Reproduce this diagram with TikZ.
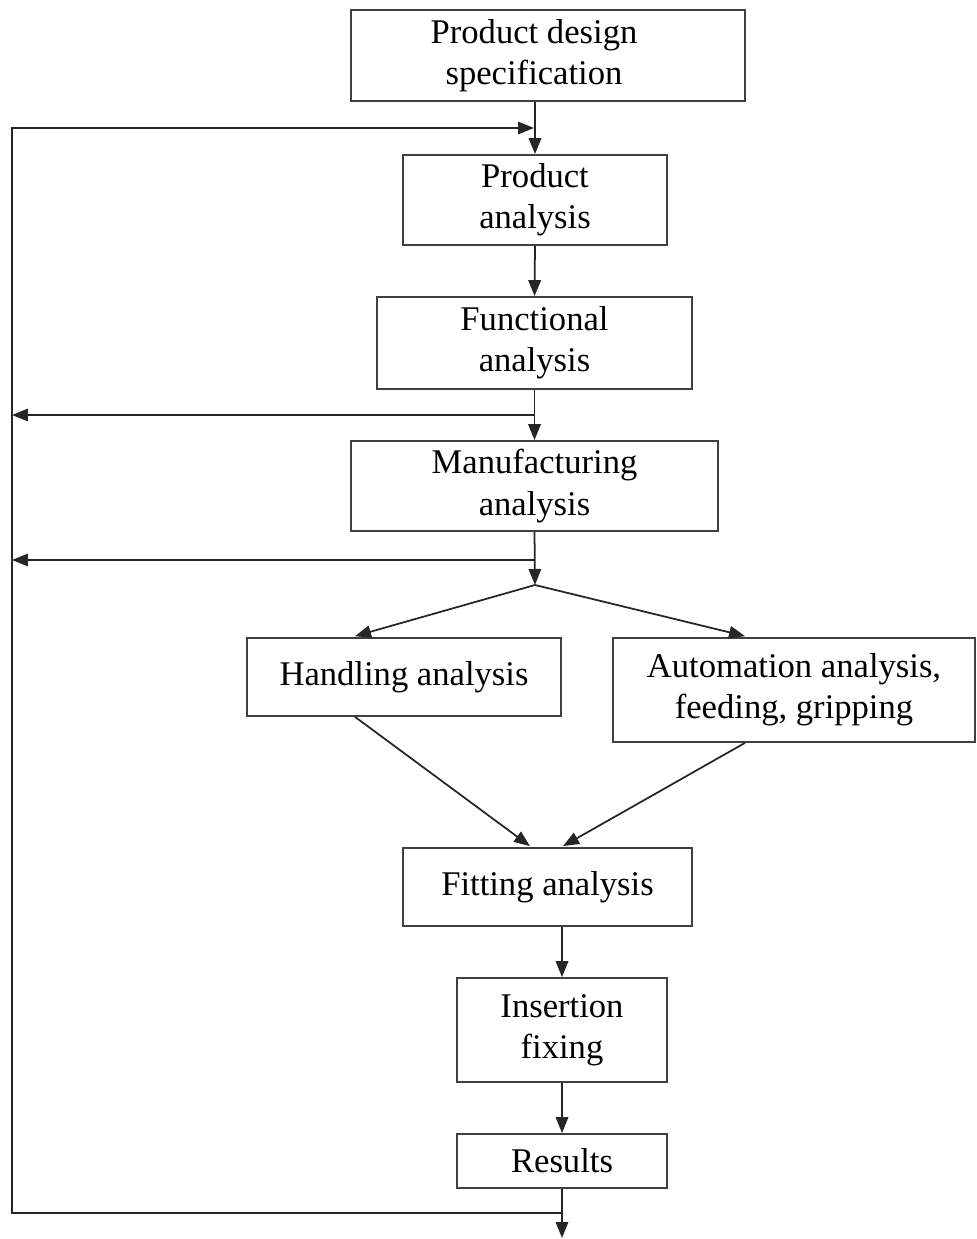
\documentclass[tikz,border=0pt]{standalone}
\usepackage{fontspec}
\setmainfont{Liberation Serif}
\usetikzlibrary{arrows.meta,calc}
\begin{document}
\begin{tikzpicture}[x=0.02cm,y=-0.02cm,
  box/.style={draw=black!75,line width=1pt,align=center,inner sep=0pt,
    font=\fontsize{19.7}{23.5}\selectfont},
  conn/.style={draw=black!85,line width=1pt},
  arr/.style={conn,-{Triangle[length=0.32cm,width=0.25cm]}}]
\useasboundingbox (0,0) rectangle (976,1239);
\node[box,minimum width=7.88cm,minimum height=1.82cm] (pds) at (548,55.5) {\hspace*{-0.56cm}Product design\\\hspace*{-0.56cm}specification};
\node[box,minimum width=5.28cm,minimum height=1.8cm] (pa) at (535,200) {Product\\analysis};
\node[box,minimum width=6.3cm,minimum height=1.84cm] (fa) at (534.5,343) {Functional\\analysis};
\node[box,minimum width=7.34cm,minimum height=1.8cm] (ma) at (534.5,486) {Manufacturing\\analysis};
\node[box,minimum width=6.28cm,minimum height=1.56cm] (ha) at (404,677) {Handling analysis};
\node[box,minimum width=7.24cm,minimum height=2.08cm] (aa) at (794,690) {Automation analysis,\\feeding, gripping};
\node[box,minimum width=5.78cm,minimum height=1.56cm] (fit) at (547.5,887) {Fitting analysis};
\node[box,minimum width=4.2cm,minimum height=2.08cm] (ins) at (562,1030) {Insertion\\fixing};
\node[box,minimum width=4.2cm,minimum height=1.08cm] (res) at (562,1161) {Results};
\coordinate (split) at (535,585);
\coordinate (fb) at (562,1213);
\coordinate (out) at (562,1238);
\coordinate (fbA) at (12,1213);
\coordinate (fbB) at (12,128);
\coordinate (fbC) at (534,128);
\coordinate (l1) at (12,415);
\coordinate (l2) at (12,560);
% main chain
\draw[arr] (pa.north |- pds.south) -- (pa.north);
\draw[arr] (pa.south) -- (fa.north);
\draw[arr] (fa.south) -- (ma.north);
\draw[arr] (ma.south) -- (split);
\draw[arr] (split) -- ($(ha.north)+(-49,-1)$);
\draw[arr] (split) -- ($(aa.north)+(-49,-1)$);
\draw[arr] ($(ha.south)+(-49,0)$) -- ($(fit.north)+(-17.5,-1)$);
\draw[arr] ($(aa.south)+(-49,0)$) -- ($(fit.north)+(15.5,-1)$);
\draw[arr] (ins.north |- fit.south) -- (ins.north);
\draw[arr] (ins.south) -- (res.north);
\draw[arr] (res.south) -- (out);
% feedback
\draw[arr] (fb) -- (fbA) -- (fbB) -- (fbC);
\draw[arr] (fa.south |- l1) -- (l1);
\draw[arr] (ma.south |- l2) -- (l2);
\end{tikzpicture}
\end{document}
